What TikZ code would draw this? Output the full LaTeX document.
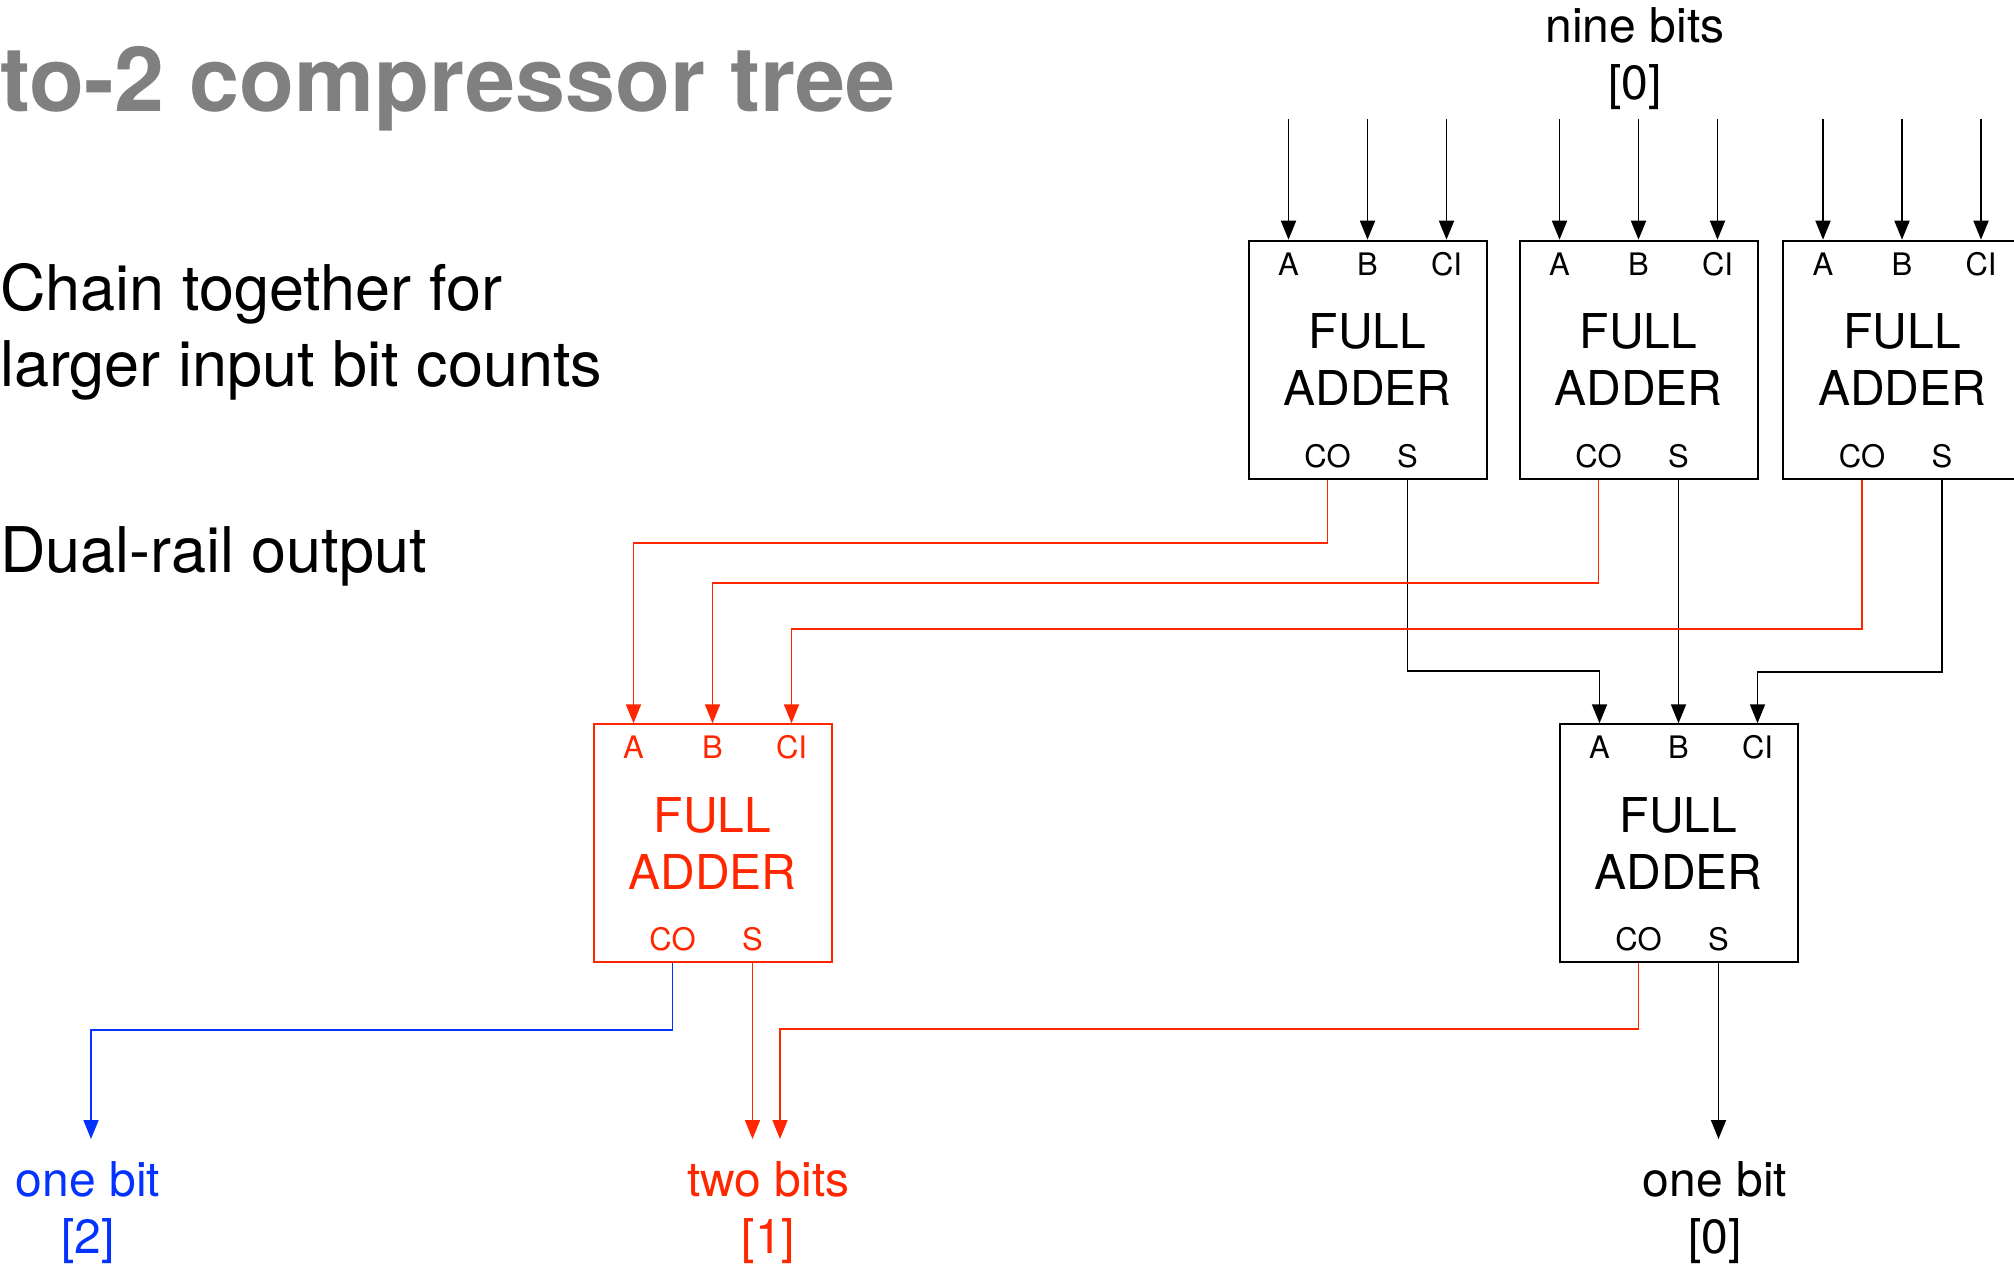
\documentclass[tikz,border=0pt]{standalone}
\usepackage{fontspec}
\setmainfont{TeX Gyre Heros}
\usetikzlibrary{positioning, calc, arrows.meta}

\definecolor{kred}{RGB}{255,38,0}
\definecolor{kblue}{RGB}{4,51,255}
\definecolor{titlegray}{RGB}{128,128,128}

\begin{document}
\begin{tikzpicture}[
  x=1pt, y=-1pt,
  adder/.style={
    draw,
    line width=2pt,
    minimum width=238pt,
    minimum height=238pt,
    inner sep=0pt,
    align=center,
    font=\fontsize{48}{57}\selectfont,
  },
  port/.style={inner sep=0pt, font=\fontsize{31}{36}\selectfont},
  wire/.style={line width=1.8pt, -{Triangle[length=19pt,width=15pt]}},
  bits/.style={anchor=base, inner sep=0pt, align=center, font=\fontsize{48}{57}\selectfont},
  bullet/.style={anchor=base west, inner sep=0pt, font=\fontsize{63}{76}\selectfont},
]
\useasboundingbox (0,0) rectangle (2014,1264);
\clip (0,0) rectangle (2014,1264);

% --- slide text ---
\node[anchor=base west, inner sep=0pt, text=titlegray, font=\fontsize{90}{100}\selectfont\bfseries] (title) at (0,111) {to-2 compressor tree};
\node[bullet] (chain) at (0,310) {Chain together for};
\node[bullet] (larger) at (0,386.5) {larger input bit counts};
\node[bullet] (dual) at (0,572.7) {Dual-rail output};

% --- first row: three full adders ---
\node[adder] (fa1) at (1367.5,359.7) {FULL\\ADDER};
\node[adder, right=31pt of fa1] (fa2) {FULL\\ADDER};
\node[adder, right=23.5pt of fa2] (fa3) {FULL\\ADDER};

% --- second row ---
\node[adder, kred] (fb1) at (712.5,843.3) {FULL\\ADDER};
\node[adder] (fb2) at ($(fa2.center |- fb1.center)+(40,0)$) {FULL\\ADDER};

% port labels on every adder
\foreach \n/\c in {fa1/black, fa2/black, fa3/black, fb1/kred, fb2/black} {
  \node[port, text=\c] (\n-A) at ($(\n.north)+(-79,24)$) {A};
  \node[port, text=\c] (\n-B) at ($(\n.north)+(0,24)$) {B};
  \node[port, text=\c] (\n-CI) at ($(\n.north)+(79,24)$) {CI};
  \node[port, text=\c] (\n-CO) at ($(\n.south)+(-40,-24)$) {CO};
  \node[port, text=\c] (\n-S) at ($(\n.south)+(40,-24)$) {S};
}

% --- inputs ---
\node[bits] (nine) at (1635,99.7) {nine bits\\{[0]}};
\coordinate (top) at (0,119);
\foreach \n in {fa1, fa2, fa3}
  \foreach \p in {A, B, CI}
    \draw[wire] (\n-\p |- top) -- (\n-\p |- \n.north);

% sums go to the black adder
\coordinate (sumrowL) at (0,670.7);
\coordinate (sumrowR) at (0,672);
\draw[wire] (fa1-S |- fa1.south) |- (fb2-A |- sumrowL) -- (fb2-A |- fb2.north);
\draw[wire] (fa2-S |- fa2.south) -- (fb2-B |- fb2.north);
\draw[wire] (fa3-S |- fa3.south) |- (fb2-CI |- sumrowR) -- (fb2-CI |- fb2.north);

% carries go to the red adder
\coordinate (corow1) at (0,543.3);
\coordinate (corow2) at (0,583);
\coordinate (corow3) at (0,628.7);
\draw[wire, kred] (fa1-CO |- fa1.south) |- (fb1-A |- corow1) -- (fb1-A |- fb1.north);
\draw[wire, kred] (fa2-CO |- fa2.south) |- (fb1-B |- corow2) -- (fb1-B |- fb1.north);
\draw[wire, kred] (fa3-CO |- fa3.south) |- (fb1-CI |- corow3) -- (fb1-CI |- fb1.north);

% --- outputs ---
\node[bits, text=kblue] (bit2) at (88,1253.7) {one bit\\{[2]}};
\node[bits, text=kred] (bit1) at (768.5,1253.7) {two bits\\{[1]}};
\node[bits] (bit0) at (1715,1253.7) {one bit\\{[0]}};

\coordinate (out2) at (91,1139);
\coordinate (out1) at (780,1139);
\coordinate (lowB) at (0,1030);
\coordinate (lowR) at (0,1028.7);
\draw[wire, kblue] (fb1-CO |- fb1.south) |- (out2 |- lowB) -- (out2);
\draw[wire, kred] (fb1-S |- fb1.south) -- (fb1-S |- out1);
\draw[wire, kred] (fb2-CO |- fb2.south) |- (out1 |- lowR) -- (out1);
\draw[wire] (fb2-S |- fb2.south) -- (fb2-S |- out1);
\end{tikzpicture}
\end{document}
